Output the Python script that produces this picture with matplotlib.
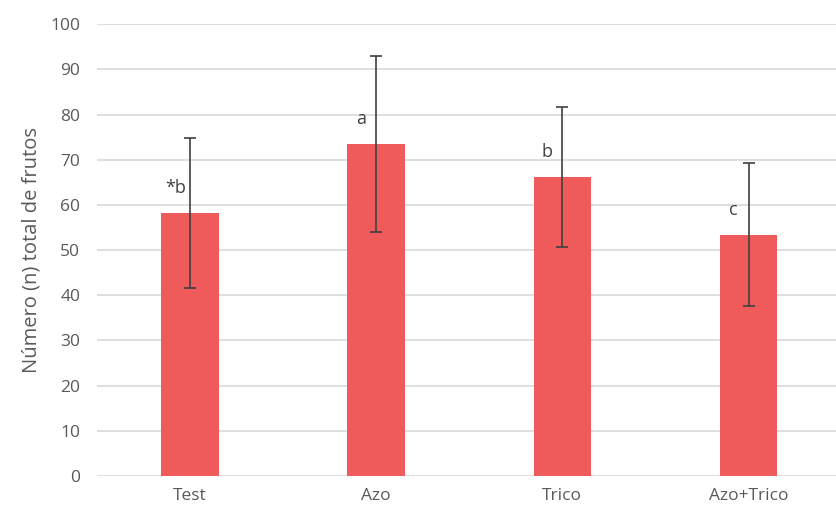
import matplotlib.pyplot as plt
import numpy as np

plt.rcParams['font.family'] = ['Open Sans', 'DejaVu Sans']

tratamientos = ['Test', 'Azo', 'Trico', 'Azo+Trico']
frutos = [58.2, 73.4, 66.2, 53.4]
error = [16.6, 19.5, 15.5, 15.8]
letras = ['*b', 'a', 'b', 'c']

gris = '#595959'

fig = plt.figure(figsize=(8.36, 5.14), dpi=100)
ax = fig.add_axes([0.116, 0.074, 0.884, 0.879])

x = np.arange(len(tratamientos))
ax.bar(x, frutos, width=0.31, color='#ef5b5b', zorder=2)
ax.errorbar(x, frutos, yerr=error, fmt='none', ecolor='#404040',
            elinewidth=1.2, capsize=4.3, capthick=1.2, zorder=3)

for xi, v, l in zip(x, frutos, letras):
    ax.text(xi - 0.08, v + 5.5, l, ha='center', va='center',
            fontsize=13, color='#404040')

ax.set_xlim(-0.5, 3.47)
ax.set_ylim(0, 100)
ax.set_yticks(range(0, 101, 10))
ax.set_xticks(x)
ax.set_xticklabels(tratamientos)
ax.yaxis.grid(True, color='#d9d9d9', linewidth=1.2, zorder=0)
ax.set_axisbelow(True)
for s in ax.spines.values():
    s.set_visible(False)
ax.tick_params(length=0, labelsize=12.5, labelcolor=gris)
ax.tick_params(axis='x', pad=9)
ax.tick_params(axis='y', pad=12)
ax.set_ylabel('Número (n) total de frutos', fontsize=14.5, color=gris, labelpad=6)

fig.savefig('out.png', dpi=100)
